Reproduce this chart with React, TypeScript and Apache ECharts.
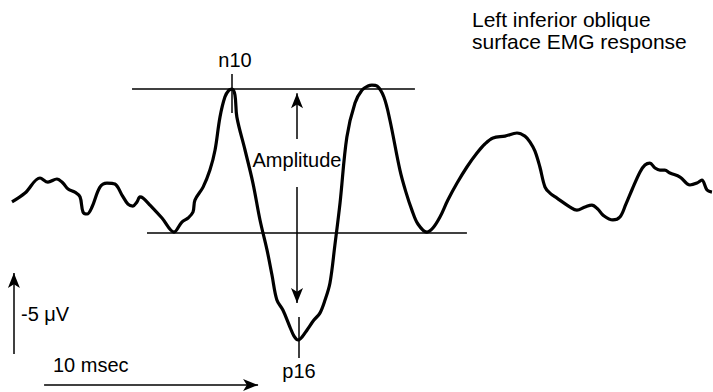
import React, { useEffect, useRef } from "react";
import * as echarts from "echarts";

// Time (ms) of each traced sample and the EMG amplitude (µV, negative = up)
const timeMs = [
  0.56, 1.17, 1.87, 2.24, 2.66, 2.94, 3.18, 3.5, 3.74, 3.88, 4.07, 4.3, 4.67, 5.0, 5.37, 5.7, 5.98,
  6.21, 6.4, 6.54, 6.68, 7.01, 7.57, 8.13, 8.5, 8.79, 9.02, 9.11, 9.49, 9.81, 10.05, 10.28, 10.51,
  10.7, 10.84, 10.98, 11.07, 11.45, 11.82, 12.15, 12.48, 12.71, 12.94, 13.22, 13.55, 13.74, 13.93,
  14.11, 14.35, 14.67, 14.95, 15.19, 15.42, 15.65, 15.89, 16.21, 16.59, 16.92, 17.2, 17.38, 17.62,
  17.94, 18.22, 18.69, 18.97, 19.25, 19.53, 19.95, 20.23, 20.56, 20.93, 21.36, 21.82, 22.29, 22.66,
  23.04, 23.6, 24.16, 24.53, 24.77, 25.0, 25.23, 25.47, 25.7, 26.03, 26.64, 26.96, 27.34, 27.66,
  27.94, 28.18, 28.64, 28.97, 29.25, 29.53, 29.91, 30.14, 30.37, 30.61, 30.84, 31.07, 31.31, 31.78,
  32.24, 32.57, 32.8, 33.04, 33.27,
];
const amplitudeUv = [
  0.12, -0.43, -1.36, -1.11, -1.3, -1.05, -0.68, -0.49, -0.19, 0.74, 0.86, 0.43, -0.8, -1.05, -0.99,
  -0.31, 0.25, 0.37, 0.12, -0.19, -0.12, 0.31, 1.11, 1.98, 1.36, 1.11, 0.74, 0.0, -0.8, -1.85, -3.09,
  -5.12, -6.36, -6.79, -6.85, -6.48, -5.12, -3.09, -1.05, 1.23, 3.09, 4.63, 6.17, 6.79, 7.84, 8.4,
  8.64, 8.46, 8.02, 7.41, 6.98, 6.17, 5.12, 2.78, 0.19, -3.89, -5.99, -6.79, -7.04, -7.1, -7.04,
  -6.36, -4.94, -1.85, -0.49, 0.62, 1.48, 1.98, 1.73, 1.05, 0.0, -1.05, -2.04, -2.9, -3.46, -3.83,
  -3.95, -4.14, -3.95, -3.58, -3.02, -2.04, -0.8, -0.43, -0.12, 0.43, 0.62, 0.43, 0.31, 0.56, 0.93,
  1.23, 1.05, 0.25, -0.62, -1.73, -2.16, -2.28, -1.98, -1.85, -1.85, -1.67, -1.42, -0.93, -1.05,
  -1.23, -0.62, -0.49,
];

// Amplitude reference levels and peak markers
const n10Peak = [10.84, -6.85];
const p16Trough = [13.97, 8.64];
const upperLevel = { v: -6.85, from: 6.17, to: 19.39 };
const lowerLevel = { v: 2.04, from: 6.87, to: 21.82 };
const n10Tick = [-7.78, -5.37];
const p16Tick = [7.22, 9.75];
const amplitudeArrowT = 13.88;
const amplitudeUp = [-3.77, -6.6];
const amplitudeDown = [-0.8, 6.36];

// Calibration bars
const voltBar = { t: 0.65, from: 9.51, to: 4.51, label: "-5 μV" };
const timeBar = { v: 11.42, from: 2.06, to: 12.06, label: "10 msec" };

const titleLines = ["Left inferior oblique", "surface EMG response"];

const X_MAX = 33.32;
const Y_MIN = -12.35;
const Y_MAX = 11.85;

export default function App() {
  const ref = useRef<HTMLDivElement>(null);
  useEffect(() => {
    if (!ref.current) return;
    const chart = echarts.init(ref.current, null, { renderer: "svg" });
    const data = timeMs.map((t, i) => [t, amplitudeUv[i]]);
    const font = "Liberation Sans";
    const arrowEnd = (c: number[]) => ({ coord: c, symbol: "arrow", symbolSize: [9, 15] });
    const plain = (c: number[]) => ({ coord: c, symbol: "none" });
    chart.setOption({
      animation: false,
      backgroundColor: "#ffffff",
      grid: { left: 0, right: 0, top: 0, bottom: 0 },
      xAxis: { type: "value", min: 0, max: X_MAX, show: false },
      yAxis: { type: "value", min: Y_MIN, max: Y_MAX, inverse: true, show: false },
      series: [
        {
          type: "line",
          data,
          smooth: 0.35,
          showSymbol: false,
          lineStyle: { color: "#000", width: 3.2 },
          z: 3,
          markLine: {
            silent: true,
            animation: false,
            symbol: ["none", "none"],
            label: { show: false },
            lineStyle: { color: "#000", width: 1.5, type: "solid" },
            emphasis: { disabled: true },
            data: [
              [plain([upperLevel.from, upperLevel.v]), plain([upperLevel.to, upperLevel.v])],
              [plain([lowerLevel.from, lowerLevel.v]), plain([lowerLevel.to, lowerLevel.v])],
              [plain([n10Peak[0], n10Tick[0]]), plain([n10Peak[0], n10Tick[1]])],
              [plain([p16Trough[0], p16Tick[0]]), plain([p16Trough[0], p16Tick[1]])],
              [plain([amplitudeArrowT, amplitudeUp[0]]), arrowEnd([amplitudeArrowT, amplitudeUp[1]])],
              [plain([amplitudeArrowT, amplitudeDown[0]]), arrowEnd([amplitudeArrowT, amplitudeDown[1]])],
              [plain([voltBar.t, voltBar.from]), arrowEnd([voltBar.t, voltBar.to])],
              [plain([timeBar.from, timeBar.v]), arrowEnd([timeBar.to, timeBar.v])],
            ],
          },
        },
      ],
      graphic: [
        {
          type: "text",
          style: { x: 472, y: 19, text: titleLines[0], font: `21px "${font}"`, fill: "#000", textVerticalAlign: "middle" },
        },
        {
          type: "text",
          style: { x: 472, y: 41, text: titleLines[1], font: `21px "${font}"`, fill: "#000", textVerticalAlign: "middle" },
        },
        {
          type: "text",
          style: { x: 235, y: 60, text: "n10", font: `20px "${font}"`, fill: "#000", textAlign: "center", textVerticalAlign: "middle" },
        },
        {
          type: "text",
          style: { x: 297, y: 160, text: "Amplitude", font: `20px "${font}"`, fill: "#000", textAlign: "center", textVerticalAlign: "middle" },
        },
        {
          type: "text",
          style: { x: 299, y: 371, text: "p16", font: `20px "${font}"`, fill: "#000", textAlign: "center", textVerticalAlign: "middle" },
        },
        {
          type: "text",
          style: { x: 53, y: 365, text: timeBar.label, font: `20px "${font}"`, fill: "#000", textVerticalAlign: "middle" },
        },
        {
          type: "text",
          style: { x: 21, y: 314, text: voltBar.label, font: `20px "${font}"`, fill: "#000", textVerticalAlign: "middle" },
        },
      ],
    });
    return () => chart.dispose();
  }, []);
  return (
    <div
      ref={ref}
      style={{ position: "fixed", left: 0, top: 0, width: 713, height: 392, background: "#fff" }}
    />
  );
}
